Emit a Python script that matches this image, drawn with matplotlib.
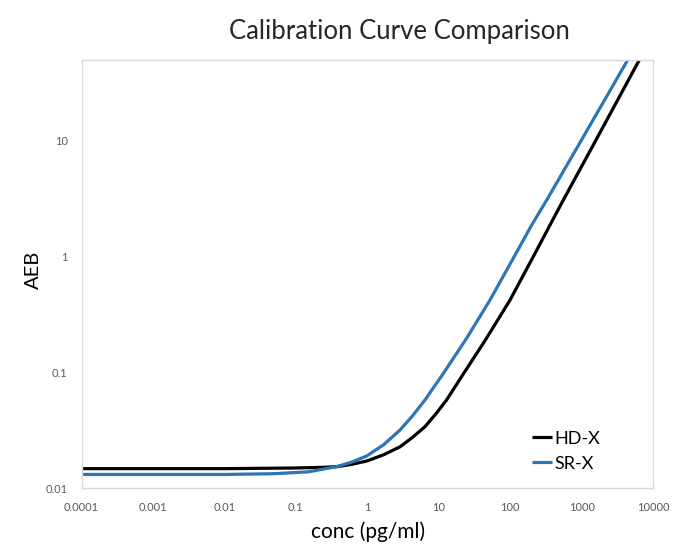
import matplotlib
matplotlib.use("Agg")
import matplotlib.pyplot as plt

# values (log-log calibration curves)
hdx_conc = [0.0001, 0.01, 0.1, 0.25, 0.373, 0.6, 0.98, 1.7, 2.87, 4.3, 6.43,
            9.2, 12.9, 22.9, 45, 99.6, 211, 361, 555, 1567, 6430, 8500]
hdx_aeb = [0.0147, 0.0147, 0.0149, 0.0151, 0.0153, 0.0160, 0.0171, 0.0194, 0.0227,
           0.0274, 0.0339, 0.044, 0.0577, 0.1, 0.19, 0.421, 1.0, 1.87, 3.08, 10, 50, 68]

srx_conc = [0.0001, 0.01, 0.05, 0.15, 0.373, 0.6, 0.98, 1.7, 2.87, 4.3,
            6.43, 11.9, 25, 52.2, 114, 200, 325, 982, 4416, 5800]
srx_aeb = [0.0131, 0.0131, 0.0133, 0.0138, 0.0153, 0.0167, 0.0189, 0.0237,
           0.0317, 0.042, 0.0577, 0.1, 0.2, 0.421, 1.0, 1.87, 3.08, 10, 50, 67]

x_ticks = [0.0001, 0.001, 0.01, 0.1, 1, 10, 100, 1000, 10000]
x_labels = ["0.0001", "0.001", "0.01", "0.1", "1", "10", "100", "1000", "10000"]
y_ticks = [0.01, 0.1, 1, 10]
y_labels = ["0.01", "0.1", "1", "10"]

plt.rcParams['font.family'] = ['Lato', 'DejaVu Sans']

fig = plt.figure(figsize=(6.73, 5.44), dpi=100)
ax = fig.add_axes([0.1211, 0.1029, 0.8492, 0.7868])

ax.plot(hdx_conc, hdx_aeb, color="#000000", lw=2.3, label="HD-X", solid_capstyle="butt")
ax.plot(srx_conc, srx_aeb, color="#2e75b6", lw=2.3, label="SR-X", solid_capstyle="butt")

ax.set_xscale("log")
ax.set_yscale("log")
ax.set_xlim(0.0001, 10000)
ax.set_ylim(0.01, 50)
ax.set_xticks(x_ticks, x_labels)
ax.set_yticks(y_ticks, y_labels)
ax.minorticks_off()
ax.tick_params(length=0, labelsize=8, colors="#595959")
ax.tick_params(axis="x", pad=10)
ax.tick_params(axis="y", pad=10)
for s in ax.spines.values():
    s.set_color("#d9d9d9")
    s.set_linewidth(1)

leg = ax.legend(loc="lower right", frameon=False, fontsize=13, handlelength=1.1,
                handletextpad=0.15, labelspacing=0.5, bbox_to_anchor=(0.936, 0.0))
for t in leg.get_texts():
    t.set_color("#000000")

fig.text(0.593, 0.942, "Calibration Curve Comparison", ha="center", va="center",
         fontsize=18.5, color="#262626")
fig.text(0.049, 0.504, "AEB", rotation=90, ha="center", va="center", fontsize=14.5,
         color="#000000")
fig.text(0.547, 0.022, "conc (pg/ml)", ha="center", va="center", fontsize=15,
         color="#000000")

fig.savefig("out.png", dpi=100)
